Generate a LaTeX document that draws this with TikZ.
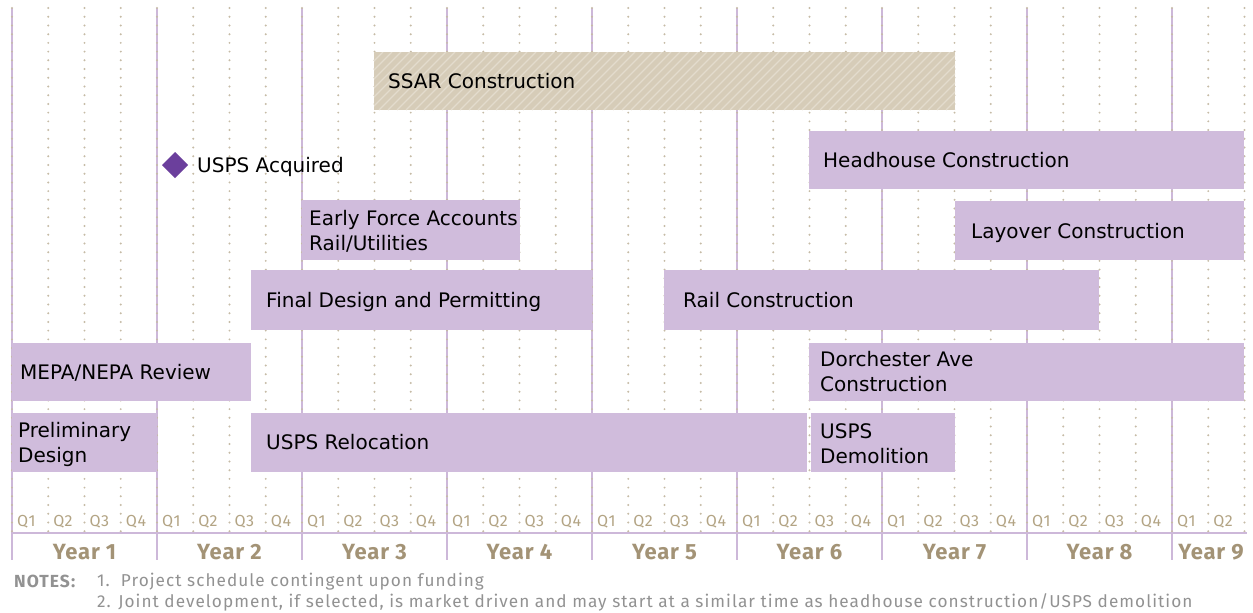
\documentclass[tikz,border=0pt]{standalone}
\usepackage{fontspec}
\setmainfont{DejaVu Sans}
\newfontfamily\axisfont{Fira Sans}[LetterSpace=4]
\newfontfamily\notefont{Fira Sans}[LetterSpace=6]
\definecolor{barpurple}{HTML}{D0BCDC}
\definecolor{gridpurple}{HTML}{CDB8D9}
\definecolor{dotbeige}{HTML}{C6BBA6}
\definecolor{ssarbase}{HTML}{D6CCB8}
\definecolor{ssarstripe}{HTML}{E3DCCD}
\definecolor{milestone}{HTML}{6B3F9C}
\definecolor{axisbeige}{HTML}{B3A484}
\definecolor{yearbeige}{HTML}{A39376}
\definecolor{notegray}{HTML}{929292}
\begin{document}
\begin{tikzpicture}[x=1pt,y=-1pt,
  bar/.style={fill=barpurple},
  barlabel/.style={anchor=west, align=left, inner sep=0pt, text=black,
    font=\fontsize{20}{25}\selectfont},
  qdots/.style={draw=dotbeige, line width=2.2pt, line cap=round, dash pattern=on 0pt off 8.72pt},
  yearline/.style={draw=gridpurple, line width=2.6pt},
  qlabel/.style={anchor=west, inner sep=0pt, text=axisbeige, font=\axisfont\fontsize{16}{16}\selectfont},
  yearlabel/.style={inner sep=0pt, text=yearbeige, font=\axisfont\bfseries\fontsize{22}{22}\selectfont},
  notetext/.style={anchor=west, inner sep=0pt, text=notegray, font=\notefont\fontsize{17.2}{17.2}\selectfont}]

% canvas
\useasboundingbox[fill=white] (0,0) rectangle (1253,613);

% year dividers
\foreach \i in {0,...,8}
  \draw[yearline] ({12+145*\i},8) -- ({12+145*\i},560);
% quarter grid (dots also run over the year dividers)
\foreach \k in {0,...,34}
  \draw[qdots] ({12+36.25*\k},8) -- ({12+36.25*\k},532);
% time axis
\draw[yearline] (12,533) -- (1247,533);

% quarter labels
\foreach \y in {0,...,7}
  \foreach \q in {1,...,4}
    \node[qlabel] (q\y\q) at ({12+145*\y+36.25*(\q-1)+5},522) {Q\q};
\node[qlabel] (q81) at ({12+145*8+5},522) {Q1};
\node[qlabel] (q82) at ({12+145*8+36.25+5},522) {Q2};

% year labels
\foreach \y in {1,...,8}
  \node[yearlabel] (year\y) at ({12+145*(\y-0.5)},552) {Year \y};
\node[yearlabel] (year9) at (1211,552) {Year 9};

% SSAR bar with diagonal hatching
\fill[ssarbase] (374,52) rectangle (955,110);
\begin{scope}
  \clip (374,52) rectangle (955,110);
  \foreach \s in {0,...,72}
    \draw[ssarstripe, line width=1.1pt] ({316+9*\s},110) -- ({374+9*\s},52);
\end{scope}
\node[barlabel] (ssar) at (388,81) {SSAR Construction};

% milestone
\fill[milestone] (175,152) -- (188,165) -- (175,178) -- (162,165) -- cycle;
\node[barlabel] (acq) at (197,167) {USPS Acquired};

% activity bars
\fill[bar] (809,131) rectangle (1244,189);
\node[barlabel] (head) at (823,160) {Headhouse Construction};

\fill[bar] (302,200) rectangle (520,260);
\node[barlabel] (efa) at (309,231) {Early Force Accounts\\Rail/Utilities};

\fill[bar] (955,201) rectangle (1244,260);
\node[barlabel] (layover) at (971,233) {Layover Construction};

\fill[bar] (251,270) rectangle (592,330);
\node[barlabel] (final) at (266,302) {Final Design and Permitting};

\fill[bar] (664,270) rectangle (1099,330);
\node[barlabel] (rail) at (683,300) {Rail Construction};

\fill[bar] (12,343) rectangle (251,401);
\node[barlabel] (mepa) at (20,373) {MEPA/NEPA Review};

\fill[bar] (809,343) rectangle (1244,401);
\node[barlabel] (dorch) at (820,372) {Dorchester Ave\\Construction};

\fill[bar] (12,413) rectangle (157,472);
\node[barlabel] (prelim) at (18,444) {Preliminary\\Design};

\fill[bar] (251,413) rectangle (807,472);
\node[barlabel] (reloc) at (266,442) {USPS Relocation};

\fill[bar] (811,413) rectangle (955,472);
\node[barlabel] (demo) at (820,444) {USPS\\Demolition};

% notes
\node[notetext, font=\notefont\bfseries\fontsize{17.5}{17.5}\selectfont] (notes) at (14,581) {NOTES:};
\node[notetext] (note1) at (97,582) {1.\ \ Project schedule contingent upon funding};
\node[notetext] (note2) at (97,602) {2. Joint development, if selected, is market driven and may start at a similar time as headhouse construction/USPS demolition};
\end{tikzpicture}
\end{document}
